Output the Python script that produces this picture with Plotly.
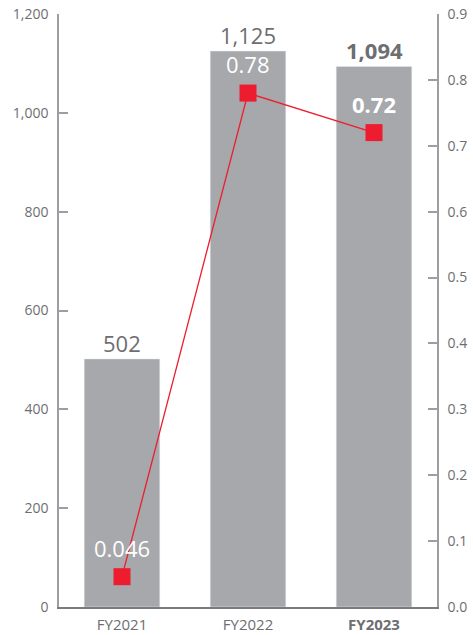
import plotly.graph_objects as go

years = ["FY2021", "FY2022", "FY2023"]
revenue = [502, 1125, 1094]
ratio = [0.046, 0.78, 0.72]
revenue_labels = ["502", "1,125", "<b>1,094</b>"]
ratio_labels = ["0.046", "0.78", "<b>0.72</b>"]
tick_labels = ["FY2021", "FY2022", "<b>FY2023</b>"]

FONT = "Open Sans"
GREY_TXT = "#6d6e71"
BAR = "#a7a8ab"
RED = "#ed1c2e"

fig = go.Figure()
fig.add_trace(go.Bar(x=years, y=revenue, marker_color=BAR, width=0.6,
                     hoverinfo="skip", showlegend=False))
fig.add_trace(go.Scatter(x=years, y=ratio, yaxis="y2", mode="lines+markers",
                         line=dict(color=RED, width=1.3),
                         marker=dict(symbol="square", size=17, color=RED),
                         showlegend=False))

for x, v, t in zip(years, revenue, revenue_labels):
    fig.add_annotation(x=x, y=v, yref="y", text=t, showarrow=False,
                       yanchor="bottom", yshift=-1,
                       font=dict(family=FONT, size=22, color=GREY_TXT))
for x, v, t in zip(years, ratio, ratio_labels):
    fig.add_annotation(x=x, y=v, yref="y2", text=t, showarrow=False,
                       yanchor="middle", yshift=29,
                       font=dict(family=FONT, size=22, color="white"))

fig.update_layout(
    width=473, height=635,
    margin=dict(l=59, r=36, t=14, b=28),
    plot_bgcolor="white", paper_bgcolor="white",
    bargap=0.4,
    font=dict(family=FONT, size=14, color=GREY_TXT),
    xaxis=dict(tickmode="array", tickvals=years, ticktext=tick_labels,
               showline=True, linecolor="#7a7b7e", linewidth=2,
               ticks="", showgrid=False, automargin=False,
               ticklabelstandoff=3,
               tickfont=dict(family=FONT, size=15, color=GREY_TXT)),
    yaxis=dict(range=[0, 1200], dtick=200, tickformat=",d",
               showline=True, linecolor="#9d9ea1", linewidth=1.5,
               ticks="inside", ticklen=9, tickcolor="#9d9ea1", tickwidth=1.5,
               showgrid=False, zeroline=False, ticklabelstandoff=6,
               automargin=False,
               tickfont=dict(family=FONT, size=14, color=GREY_TXT)),
    yaxis2=dict(range=[0, 0.9], dtick=0.1, tickformat=".1f",
                overlaying="y", side="right",
                showline=True, linecolor="#9d9ea1", linewidth=1.5,
                ticks="inside", ticklen=9, tickcolor="#9d9ea1", tickwidth=1.5,
                showgrid=False, zeroline=False, ticklabelstandoff=6,
                automargin=False,
                tickfont=dict(family=FONT, size=14, color=GREY_TXT)),
)

fig.write_html("out.html")
